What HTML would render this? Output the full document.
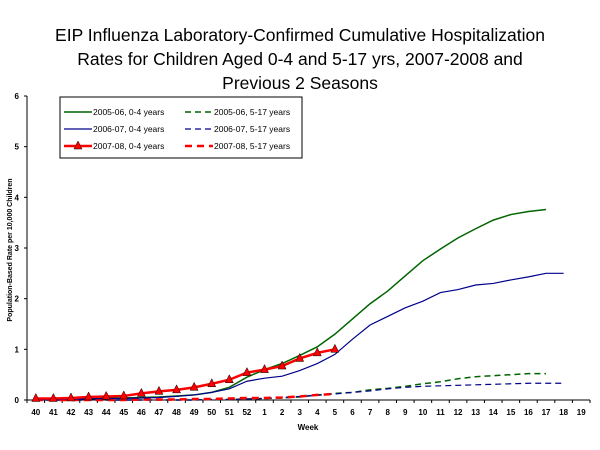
<!DOCTYPE html>
<html><head><meta charset="utf-8"><style>
body{margin:0;background:#fff;}
svg{display:block;font-family:"Liberation Sans",Arial,sans-serif;}
</style></head><body>
<svg id="chart" width="600" height="450" viewBox="0 0 600 450">
<g font-size="17.5" text-anchor="middle" fill="#000">
<text x="300" y="41">EIP Influenza Laboratory-Confirmed Cumulative Hospitalization</text>
<text x="300" y="65">Rates for Children Aged 0-4 and 5-17 yrs, 2007-2008 and</text>
<text x="300" y="89">Previous 2 Seasons</text>
</g>
<g id="axes"></g>
<g id="series"></g>
<text x="308" y="430" font-size="8" font-weight="bold" text-anchor="middle">Week</text>
<text transform="translate(12,250) rotate(-90)" font-size="7" font-weight="bold" text-anchor="middle">Population-Based Rate per 10,000 Children</text>
<g>
<rect x="60" y="97" width="242" height="61" fill="#fff" stroke="#000" stroke-width="1"/>
<g font-size="8.5">
<line x1="64" y1="112" x2="92" y2="112" stroke="#006400" stroke-width="1.5"/><text x="93" y="115">2005-06, 0-4 years</text>
<line x1="185" y1="112" x2="213" y2="112" stroke="#006400" stroke-width="1.5" stroke-dasharray="6,4"/><text x="214" y="115">2005-06, 5-17 years</text>
<line x1="64" y1="129" x2="92" y2="129" stroke="#00008b" stroke-width="1.2"/><text x="93" y="132">2006-07, 0-4 years</text>
<line x1="185" y1="129" x2="213" y2="129" stroke="#00008b" stroke-width="1.2" stroke-dasharray="6,4"/><text x="214" y="132">2006-07, 5-17 years</text>
<line x1="64" y1="146" x2="92" y2="146" stroke="#ff0000" stroke-width="2.5"/><polygon points="78,141 82,149 74,149" fill="#ff0000" stroke="#000" stroke-width="0.5"/><text x="93" y="149">2007-08, 0-4 years</text>
<line x1="185" y1="146" x2="213" y2="146" stroke="#ff0000" stroke-width="2.5" stroke-dasharray="7,5"/><text x="214" y="149">2007-08, 5-17 years</text>
</g></g>
</svg>
<script>
const weeks=["40","41","42","43","44","45","46","47","48","49","50","51","52","1","2","3","4","5","6","7","8","9","10","11","12","13","14","15","16","17","18","19"];
const yTicks=[0,1,2,3,4,5,6];
const s0506young=[0.02,0.02,0.03,0.03,0.04,0.04,0.05,0.06,0.08,0.1,0.15,0.25,0.45,0.6,0.72,0.88,1.05,1.3,1.6,1.9,2.15,2.45,2.75,2.98,3.2,3.38,3.55,3.66,3.72,3.76];
const s0607young=[0.01,0.01,0.02,0.02,0.03,0.03,0.04,0.05,0.07,0.1,0.15,0.22,0.37,0.43,0.47,0.58,0.72,0.9,1.2,1.48,1.65,1.82,1.95,2.12,2.18,2.27,2.3,2.37,2.43,2.5,2.5];
const s0708young=[0.03,0.03,0.04,0.06,0.07,0.08,0.13,0.17,0.2,0.25,0.32,0.4,0.54,0.6,0.67,0.82,0.93,1.0];
const s0506old=[0,0,0,0,0,0,0,0,0,0,0.01,0.01,0.02,0.03,0.04,0.06,0.1,0.13,0.15,0.2,0.23,0.27,0.32,0.36,0.42,0.46,0.48,0.5,0.52,0.52];
const s0607old=[0,0,0,0,0,0,0,0,0,0,0.01,0.01,0.02,0.03,0.05,0.07,0.09,0.12,0.15,0.18,0.22,0.25,0.27,0.28,0.29,0.3,0.31,0.32,0.33,0.33,0.33];
const s0708old=[0,0,0,0,0,0,0.01,0.01,0.01,0.02,0.02,0.03,0.04,0.04,0.05,0.07,0.1,0.12];
const NS="http://www.w3.org/2000/svg";
const L=27,R=590,T=96,B=400,yMax=6;
const bw=(R-L)/weeks.length;
const x=i=>L+bw*(i+0.5);
const y=v=>B-(v/yMax)*(B-T);
function mk(tag,attrs,parent){const e=document.createElementNS(NS,tag);for(const k in attrs)e.setAttribute(k,attrs[k]);parent.appendChild(e);return e;}
const ax=document.getElementById('axes');
const yl=mk('line',{x1:L,y1:T,x2:L,y2:B,stroke:'#000'},ax);


const xl=mk('line',{x1:L,y1:B,x2:R,y2:B,stroke:'#000'},ax);


yTicks.forEach(v=>{
  mk('line',{x1:L-3,y1:y(v),x2:L,y2:y(v),stroke:'#000'},ax);
  const t=mk('text',{x:L-8,y:y(v)+3,'font-size':8,'font-weight':'bold','text-anchor':'end'},ax);
  t.textContent=v;
  
  
});
weeks.forEach((w,i)=>{
  mk('line',{x1:L+bw*i,y1:B,x2:L+bw*i,y2:B+3,stroke:'#000'},ax);
  const t=mk('text',{x:x(i),y:B+15,'font-size':8,'font-weight':'bold','text-anchor':'middle'},ax);
  t.textContent=w;
  
  
});
mk('line',{x1:R,y1:B,x2:R,y2:B+3,stroke:'#000'},ax);
const sg=document.getElementById('series');
function line(arr,color,w,dash,name){
  const p=mk('polyline',{points:arr.map((v,i)=>x(i)+','+y(v)).join(' '),fill:'none',stroke:color,'stroke-width':w},sg);
  if(dash)p.setAttribute('stroke-dasharray',dash);
  
  
}
line(s0506old,'#006400',1.5,'6,4','line-2005-06-5-17');
line(s0607old,'#00008b',1.2,'6,4','line-2006-07-5-17');
line(s0708old,'#ff0000',2.5,'7,5','line-2007-08-5-17');
line(s0506young,'#006400',1.5,null,'line-2005-06-0-4');
line(s0607young,'#00008b',1.2,null,'line-2006-07-0-4');
line(s0708young,'#ff0000',2.5,null,'line-2007-08-0-4');
s0708young.forEach((v,i)=>{
  const cx=x(i),cy=y(v);
  const m=mk('polygon',{points:`${cx},${cy-5} ${cx+4},${cy+3} ${cx-4},${cy+3}`,fill:'#ff0000',stroke:'#000','stroke-width':0.5},sg);
  
  
});
</script>
</body></html>
